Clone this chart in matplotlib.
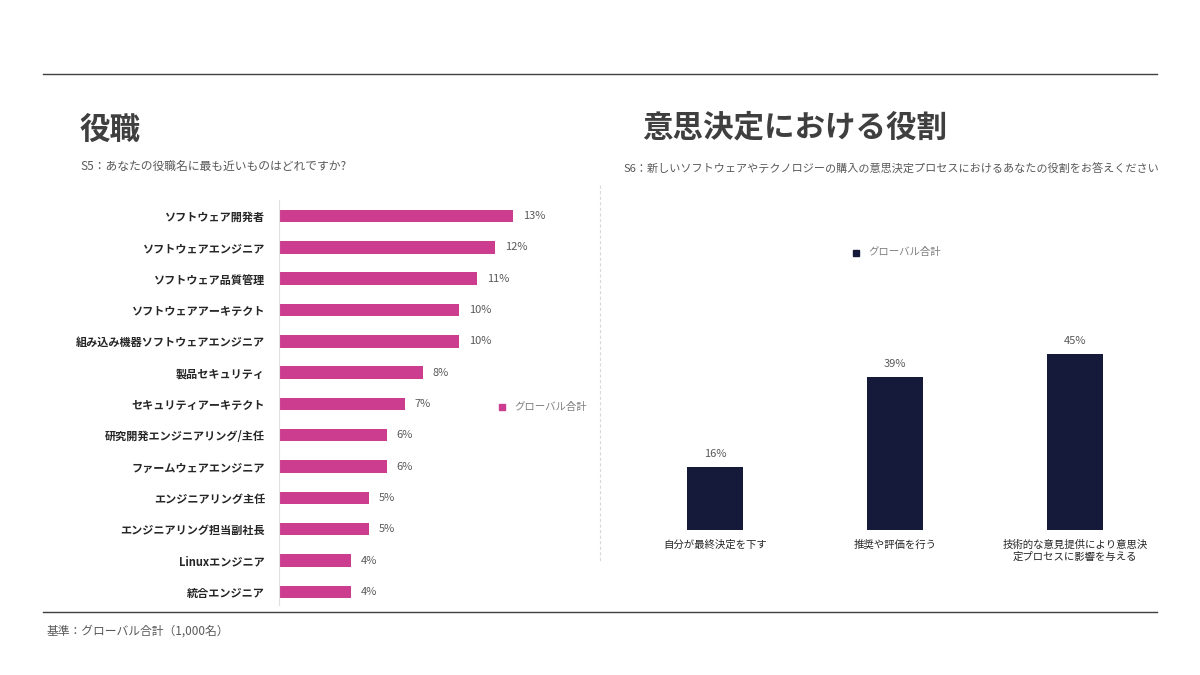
import matplotlib
matplotlib.use("Agg")
import matplotlib.pyplot as plt
from matplotlib.lines import Line2D

plt.rcParams["font.family"] = ["Noto Sans CJK JP", "DejaVu Sans"]

W, H = 1200, 675
PINK = "#cc3d8f"
NAVY = "#161a3a"
DARK = "#3f3f3f"
GRAY = "#595959"

# S5: job titles
roles = ["ソフトウェア開発者", "ソフトウェアエンジニア", "ソフトウェア品質管理",
         "ソフトウェアアーキテクト", "組み込み機器ソフトウェアエンジニア",
         "製品セキュリティ", "セキュリティアーキテクト",
         "研究開発エンジニアリング/主任", "ファームウェアエンジニア",
         "エンジニアリング主任", "エンジニアリング担当副社長",
         "Linuxエンジニア", "統合エンジニア"]
role_pct = [13, 12, 11, 10, 10, 8, 7, 6, 6, 5, 5, 4, 4]

# S6: decision role
decision = ["自分が最終決定を下す", "推奨や評価を行う",
            "技術的な意見提供により意思決\n定プロセスに影響を与える"]
decision_pct = [16, 39, 45]

series_name = "グローバル合計"


def px(x0, y0, x1, y1):
    """pixel box (top-left origin) -> figure fraction rect"""
    return [x0 / W, 1 - y1 / H, (x1 - x0) / W, (y1 - y0) / H]


fig = plt.figure(figsize=(12, 6.75), dpi=100)

# frame lines and divider
fig.add_artist(Line2D([43 / W, 1157 / W], [1 - 74 / H] * 2, color="#404040", lw=1))
fig.add_artist(Line2D([43 / W, 1157 / W], [1 - 612 / H] * 2, color="#404040", lw=1))
fig.add_artist(Line2D([600 / W] * 2, [1 - 185 / H, 1 - 562 / H], color="#d9d9d9",
                      lw=0.8, ls=(0, (3, 2))))

# titles
fig.text(80 / W, 1 - 130 / H, "役職", fontsize=22, fontweight="bold", color=DARK, va="center")
fig.text(80 / W, 1 - 166 / H, "S5：あなたの役職名に最も近いものはどれですか?",
         fontsize=8.5, color=GRAY, va="center")
fig.text(642 / W, 1 - 128 / H, "意思決定における役割", fontsize=22, fontweight="bold",
         color=DARK, va="center")
fig.text(623 / W, 1 - 169 / H,
         "S6：新しいソフトウェアやテクノロジーの購入の意思決定プロセスにおけるあなたの役割をお答えください",
         fontsize=8, color=GRAY, va="center")
fig.text(47 / W, 1 - 631 / H, "基準：グローバル合計（1,000名）", fontsize=8.5,
         color=GRAY, va="center")

# left: horizontal bars
ax1 = fig.add_axes(px(279, 200, 279 + 18 * 15, 605))
ypos = list(range(len(roles)))
ax1.barh(ypos, role_pct, height=0.4, color=PINK)
ax1.set_xlim(0, 15)
ax1.set_ylim(12.42, -0.51)
ax1.set_yticks(ypos)
ax1.set_yticklabels(roles, fontsize=8, fontweight="bold", color="#262626")
ax1.tick_params(axis="y", length=0, pad=10)
ax1.set_xticks([])
for s in ["top", "right", "bottom"]:
    ax1.spines[s].set_visible(False)
ax1.spines["left"].set_color("#e0e0e0")
for y, v in zip(ypos, role_pct):
    ax1.annotate(f"{v}%", (v, y), xytext=(7, 0), textcoords="offset points",
                 va="center", ha="left", fontsize=8, color=GRAY)

fig.patches.append(plt.Rectangle((499 / W, 1 - 410 / H), 6 / W, 6 / H,
                                 transform=fig.transFigure, color=PINK))
fig.text(514 / W, 1 - 407 / H, series_name, fontsize=7.5, color="#7f7f7f", va="center")

# right: vertical bars
ax2 = fig.add_axes(px(625, 330, 1165, 530))
xpos = list(range(len(decision)))
ax2.bar(xpos, decision_pct, width=0.31, color=NAVY)
ax2.set_xlim(-0.5, 2.5)
ax2.set_ylim(0, 51.1)
ax2.set_yticks([])
ax2.set_xticks(xpos)
ax2.set_xticklabels(decision, fontsize=7.5, color="#262626", linespacing=1.2, va="top")
ax2.tick_params(axis="x", length=0, pad=7)
for s in ax2.spines.values():
    s.set_visible(False)
for x, v in zip(xpos, decision_pct):
    ax2.annotate(f"{v}%", (x, v), xytext=(0, 6), textcoords="offset points",
                 ha="center", va="bottom", fontsize=8, color=GRAY)

fig.patches.append(plt.Rectangle((853 / W, 1 - 256 / H), 6 / W, 6 / H,
                                 transform=fig.transFigure, color=NAVY))
fig.text(868 / W, 1 - 252 / H, series_name, fontsize=7.5, color="#7f7f7f", va="center")

fig.savefig("out.png", dpi=100, facecolor="white")
